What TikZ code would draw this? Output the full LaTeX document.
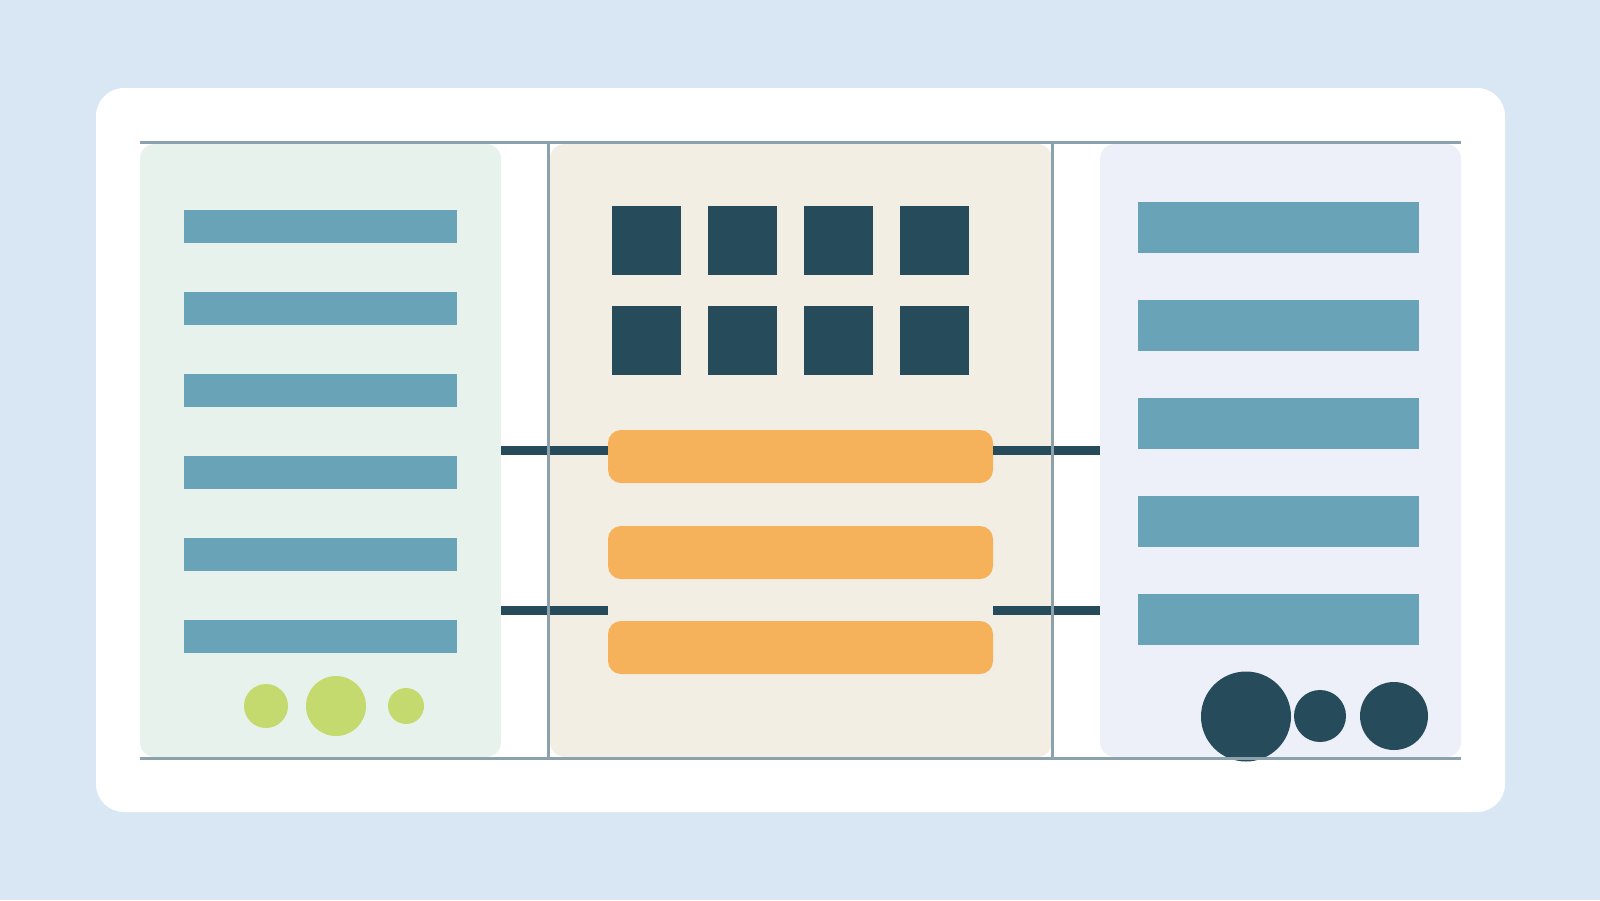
\documentclass[tikz,border=0pt]{standalone}
\usetikzlibrary{positioning}

\definecolor{bgblue}{HTML}{D8E7F3}
\definecolor{rulegray}{HTML}{8BA1AC}
\definecolor{paneGreen}{HTML}{E8F2EC}
\definecolor{paneSand}{HTML}{F2EEE4}
\definecolor{paneBlue}{HTML}{EDF0F8}
\definecolor{barBlue}{HTML}{69A3B8}
\definecolor{darkTeal}{HTML}{264B5B}
\definecolor{barOrange}{HTML}{F5B25A}
\definecolor{dotGreen}{HTML}{C4DA6E}

\tikzset{
  every picture/.style={line width=1pt},
  box/.style={rectangle, inner sep=0pt, outer sep=0pt, anchor=north west, draw=none},
  pane/.style={box, rounded corners=15pt, minimum width=#1, minimum height=613pt},
  lbar/.style={box, fill=barBlue, minimum width=273pt, minimum height=33pt},
  rbar/.style={box, fill=barBlue, minimum width=281pt, minimum height=51pt},
  tile/.style={box, fill=darkTeal, minimum size=69pt},
  pill/.style={box, fill=barOrange, rounded corners=13pt, minimum width=385pt, minimum height=53pt},
  dot/.style={circle, inner sep=0pt, outer sep=0pt, draw=none, minimum size=#1},
  link/.style={draw=darkTeal, line width=9pt},
  rule/.style={draw=rulegray, line width=3pt}
}

\begin{document}
\begin{tikzpicture}[x=1pt,y=1pt,yscale=-1,xscale=1]
%Background
\fill[bgblue] (0,0) rectangle (1600,900);
\useasboundingbox (0,0) rectangle (1600,900);
%Card
\fill[white, rounded corners=28pt] (96,88) rectangle (1505,812);

%Panels
\node[pane=361pt, fill=paneGreen] (lpane) at (140,144) {};
\node[pane=502pt, fill=paneSand] (mpane) at (550,144) {};
\node[pane=361pt, fill=paneBlue] (rpane) at (1100,144) {};

%Left bars
\foreach \i/\y in {1/210,2/292,3/374,4/456,5/538,6/620}
  \node[lbar] (lbar\i) at (184,\y) {};

%Right bars
\foreach \i/\y in {1/202,2/300,3/398,4/496,5/594}
  \node[rbar] (rbar\i) at (1138,\y) {};

%Tiles
\foreach \c/\x in {1/612,2/708,3/804,4/900}{
  \node[tile] (tileA\c) at (\x,206) {};
  \node[tile] (tileB\c) at (\x,306) {};
}

%Orange pills
\node[pill] (pill1) at (608,430) {};
\node[pill] (pill2) at (608,526) {};
\node[pill] (pill3) at (608,621) {};

%Green dots
\node[dot=44pt, fill=dotGreen] (gdot1) at (266,706) {};
\node[dot=60pt, fill=dotGreen] (gdot2) at (336,706) {};
\node[dot=36pt, fill=dotGreen] (gdot3) at (406,706) {};

%Dark dots
\node[dot=90pt, fill=darkTeal] (ddot1) at (1246,716.5) {};
\node[dot=52pt, fill=darkTeal] (ddot2) at (1320,716) {};
\node[dot=68pt, fill=darkTeal] (ddot3) at (1394,716) {};

%Links
\coordinate (linkA) at (0,450);
\coordinate (linkB) at (0,610);
\draw[link] (lpane.east |- linkA) -- (pill1.west |- linkA);
\draw[link] (pill1.east |- linkA) -- (rpane.west |- linkA);
\draw[link] (lpane.east |- linkB) -- (pill3.west |- linkB);
\draw[link] (pill3.east |- linkB) -- (rpane.west |- linkB);

%Rules
\draw[rule] (lpane.north west |- 0,142) -- (rpane.north east |- 0,142);
\draw[rule] (lpane.south west |- 0,758.5) -- (rpane.south east |- 0,758.5);
\draw[rule] (548.5,142) -- (548.5,758.5);
\draw[rule] (1052.5,142) -- (1052.5,758.5);

\end{tikzpicture}
\end{document}
